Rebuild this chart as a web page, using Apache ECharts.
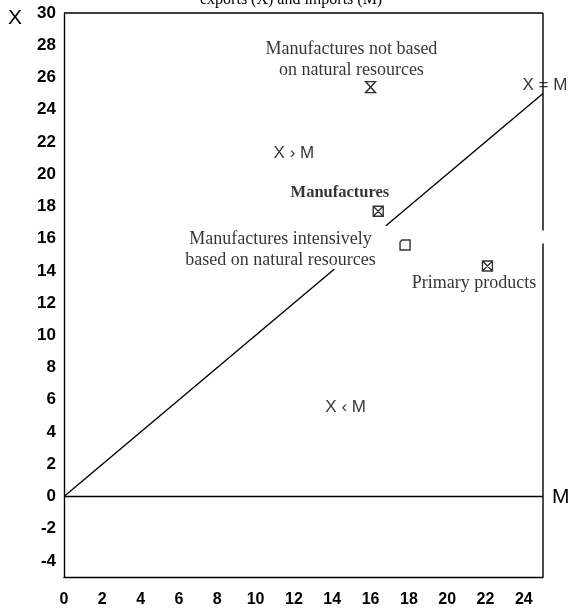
<!DOCTYPE html>
<html>
<head>
<meta charset="utf-8">
<script src="https://cdn.jsdelivr.net/npm/echarts@6/dist/echarts.min.js"></script>
<style>
  html, body { margin: 0; padding: 0; background: #fff; }
  #chart { width: 572px; height: 611px; }
</style>
</head>
<body>
<div id="chart"></div>
<script>
// axis ranges / ticks
const xTicks = [0, 2, 4, 6, 8, 10, 12, 14, 16, 18, 20, 22, 24]
const yTicks = [-4, -2, 0, 2, 4, 6, 8, 10, 12, 14, 16, 18, 20, 22, 24, 26, 28, 30]

// product groups: [M, X]
const notBased = [[16.0, 25.4]]
const manufactures = [[16.4, 17.7]]
const intensive = [[17.8, 15.6]]
const primary = [[22.1, 14.3]]

// X = M diagonal (broken where the labels sit) and the zero line
const diagLow = [[0, 0], [14.1, 14.1]]
const diagHigh = [[16.8, 16.8], [25, 25]]
const zeroLine = [[0, 0], [25, 0]]
// right frame, with its small gap
const rightTop = [[25, 30], [25, 16.5]]
const rightLow = [[25, 15.7], [25, -5]]

// text notes [M, X, text]
const serifNotes = [
  [15.0, 27.1, 'Manufactures not based\non natural resources'],
  [11.3, 15.3, 'Manufactures intensively\nbased on natural resources'],
  [21.4, 13.2, 'Primary products']
]
const boldNotes = [[14.4, 18.85, 'Manufactures']]
const sansNotes = [
  [12.0, 21.3, 'X › M'],
  [14.7, 5.5, 'X ‹ M'],
  [25.1, 25.5, 'X = M']
]

const chartBox = echarts.init(document.getElementById('chart'))

const hourglass = 'path://M0,0 L10,0 L0,10 L10,10 Z'
const crossBox = 'path://M0,0 L10,0 L10,10 L0,10 Z M0,0 L10,10 M10,0 L0,10'
const roundBox = 'path://M2,0 L10,0 L10,10 L0,10 L0,2 Z'

function lineSeries(data) {
  return {
    type: 'line',
    data: data,
    symbol: 'none',
    silent: true,
    clip: false,
    lineStyle: { color: '#000', width: 1.4 },
    z: 3
  }
}
function markSeries(data, sym, size) {
  return {
    type: 'scatter',
    data: data,
    symbol: sym,
    symbolSize: size,
    itemStyle: { color: 'rgba(0,0,0,0)', borderColor: '#000', borderWidth: 1.4 },
    z: 5
  }
}
function noteSeries(data, font, size, weight) {
  return {
    type: 'scatter',
    data: data,
    symbolSize: 0,
    silent: true,
    clip: false,
    label: {
      show: true,
      position: 'inside',
      formatter: p => p.data[2],
      fontFamily: font,
      fontSize: size,
      fontWeight: weight,
      color: '#000',
      lineHeight: size + 3,
      align: 'center'
    },
    z: 6
  }
}

const option = {
  backgroundColor: '#fff',
  animation: false,
  grid: { left: 64, right: 29, top: 13, bottom: 34 },
  xAxis: {
    type: 'value',
    min: 0,
    max: 25,
    interval: 1,
    axisLine: { onZero: false, lineStyle: { color: '#000', width: 1.4 } },
    axisTick: { show: false },
    splitLine: { show: false },
    axisLabel: {
      color: '#000',
      fontFamily: 'Liberation Sans',
      fontWeight: 'bold',
      fontSize: 16,
      margin: 15,
      formatter: v => (xTicks.includes(v) ? String(v) : '')
    }
  },
  yAxis: {
    type: 'value',
    min: -5,
    max: 30,
    interval: 1,
    axisLine: { onZero: false, lineStyle: { color: '#000', width: 1.4 } },
    axisTick: { show: false },
    splitLine: { show: false },
    axisLabel: {
      color: '#000',
      fontFamily: 'Liberation Sans',
      fontWeight: 'bold',
      fontSize: 17,
      margin: 8,
      formatter: v => (yTicks.includes(v) ? String(v) : '')
    }
  },
  graphic: [
    {
      type: 'text', left: 8, top: 8,
      style: { text: 'X', font: '21px "Liberation Sans"', fill: '#000' }
    },
    {
      type: 'text', left: 552, top: 487,
      style: { text: 'M', font: '21px "Liberation Sans"', fill: '#000' }
    },
    {
      type: 'text', left: 200, top: -8,
      style: { text: 'exports (X) and imports (M)', font: '16px "Liberation Serif"', fill: '#000' }
    },
    {
      type: 'line',
      shape: { x1: 64, y1: 13, x2: 543, y2: 13 },
      style: { stroke: '#000', lineWidth: 1.4 }
    }
  ],
  series: [
    lineSeries(diagLow),
    lineSeries(diagHigh),
    lineSeries(zeroLine),
    lineSeries(rightTop),
    lineSeries(rightLow),
    markSeries(notBased, hourglass, [10, 11]),
    markSeries(manufactures, crossBox, 10),
    markSeries(intensive, roundBox, 10),
    markSeries(primary, crossBox, 10),
    noteSeries(serifNotes, 'Liberation Serif', 18, 'normal'),
    noteSeries(boldNotes, 'Liberation Serif', 16.5, 'bold'),
    noteSeries(sansNotes, 'Liberation Sans', 17, 'normal')
  ]
}

chartBox.setOption(option, true)
</script>
</body>
</html>
